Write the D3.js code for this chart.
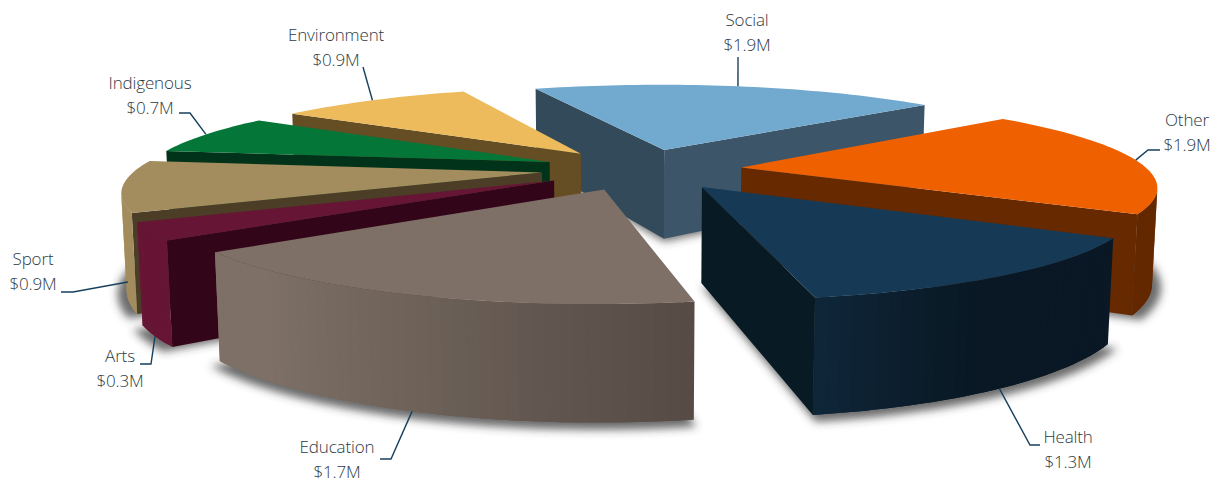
<!DOCTYPE html>
<html>
<head>
<meta charset="utf-8">
<script src="https://cdn.jsdelivr.net/npm/d3@7"></script>
<style>
  html, body { margin: 0; padding: 0; background: #fff; }
  svg { display: block; }
  text { font-family: "Open Sans", sans-serif; font-weight: 300; font-size: 17px; fill: #2c3a44; letter-spacing: -0.15px; }
</style>
</head>
<body>
<svg id="chart" width="1214" height="482"></svg>
<script>
// Funding by sector, in millions of dollars
const sectors = ["Social", "Other", "Health", "Education", "Arts", "Sport", "Indigenous", "Environment"];
const amounts = [1.9, 1.9, 1.3, 1.7, 0.3, 0.9, 0.7, 0.9];

// Colours of each slice: top face and the two cut faces
const topColors   = ["#72a9cf", "#ee6000", "#163955", "#7e7066", "#671534", "#a38c5d", "#047638", "#edbb5b"];
const startColors = ["#334a5a", "#662900", "#081a24", "#5a4f48", "#320618", "#4b3d26", "#00331a", "#664e24"];
const endColors   = ["#3c5569", "#662900", "#081a24", "#5a4f48", "#320618", "#4b3d26", "#00331a", "#664e24"];

// Label placement: text centre, first baseline, and the elbow of each leader
const labelX  = [747, 1187, 1068, 337, 120, 33, 150, 336];
const labelY  = [26, 126, 443, 453, 362, 265, 89, 41];
const elbows  = [
  [[738, 57]],
  [[1148, 150], [1160, 150]],
  [[1030, 445], [1040, 445]],
  [[391, 459], [380, 459]],
  [[151, 364], [140, 364]],
  [[73, 292], [61, 292]],
  [[190, 113], [179, 113]],
  [[363, 67]]
];

// Perspective camera looking down on the pie
const camera = { cx: 637, cy: 190, dist: 2100, tilt: Math.atan(0.222) };
const pieCentre = { x: 5, z: -100 };
const radius = 425, explode = 105, thickness = 100;

function project(x, y, z) {
  const yr = y * Math.cos(camera.tilt) - z * Math.sin(camera.tilt);
  const zr = y * Math.sin(camera.tilt) + z * Math.cos(camera.tilt);
  const s = camera.dist / (camera.dist - zr);
  return [camera.cx + x * s, camera.cy - yr * s];
}

const rad = Math.PI / 180;
const pie = d3.pie().sort(null).startAngle(-22 * rad).endAngle(338 * rad);
const arcs = pie(amounts);
const rimScale = d3.scaleLinear().domain([0, 1]).range([0, radius]);

// Brightness of the outer wall depends on the direction it faces
const wallLight = d3.scaleLinear().domain([121, 150, 170, 222]).range([0.42, 0.42, 0.68, 1]).clamp(true);

const slices = arcs.map((a, i) => {
  const mid = (a.startAngle + a.endAngle) / 2;
  const ox = pieCentre.x + explode * Math.sin(mid);
  const oz = pieCentre.z - explode * Math.cos(mid);
  const at = (angle, y, r = rimScale(1)) => project(ox + r * Math.sin(angle), y, oz - r * Math.cos(angle));
  const steps = d3.range(0, Math.ceil((a.endAngle - a.startAngle) / (1.5 * rad)) + 1);
  const angles = steps.map(k => a.startAngle + (a.endAngle - a.startAngle) * k / (steps.length - 1));
  return { i, a, mid, ox, oz, at, angles };
});

const svg = d3.select("#chart");
const defs = svg.append("defs");
defs.append("filter").attr("id", "soft")
  .attr("x", "-10%").attr("y", "-10%").attr("width", "120%").attr("height", "120%")
  .append("feGaussianBlur").attr("stdDeviation", 4.5);

const polyPath = d3.line().curve(d3.curveLinearClosed);
// Positive when the points run clockwise on screen
const signedArea = pts => -d3.polygonArea(pts);

// Soft shadows on the ground below each slice
const shadowLayer = svg.append("g").attr("filter", "url(#soft)");
slices.forEach(sl => {
  const out = radius + 9;
  const pts = [project(sl.ox, -thickness - 3, sl.oz)]
    .concat(sl.angles.map(t => sl.at(t, -thickness - 3, out)));
  shadowLayer.append("path").attr("d", polyPath(pts)).attr("fill", "#3a3a3a").attr("fill-opacity", 0.75);
});

// Slices are painted from the farthest to the nearest
const order = slices.slice().sort((p, q) => d3.ascending(p.oz, q.oz));
const sliceLayer = svg.append("g");

order.forEach(sl => {
  const g = sliceLayer.append("g");
  const base = d3.color(topColors[sl.i]);
  const h = -thickness;
  const apexTop = project(sl.ox, 0, sl.oz), apexBottom = project(sl.ox, h, sl.oz);

  const face = (pts, fill) => g.append("path").attr("d", polyPath(pts)).attr("fill", fill);

  // Cut faces along the two radii
  const startQuad = [apexTop, sl.at(sl.a.startAngle, 0), sl.at(sl.a.startAngle, h), apexBottom];
  const endQuad = [apexTop, sl.at(sl.a.endAngle, 0), sl.at(sl.a.endAngle, h), apexBottom];
  if (signedArea(startQuad) < 0) face(startQuad, startColors[sl.i]);
  if (signedArea(endQuad) > 0) face(endQuad, endColors[sl.i]);

  // Outer curved wall: shaded strips, each reaching under the next so no seams show
  const visible = d3.pairs(sl.angles).filter(([t0, t1]) =>
    signedArea([sl.at(t0, 0), sl.at(t1, 0), sl.at(t1, h), sl.at(t0, h)]) < 0);
  visible.forEach(([t0, t1], j) => {
    const far = j + 1 < visible.length ? visible[j + 1][1] : t1;
    const span = sl.angles.filter(t => t >= t0 && t <= far);
    const ring = span.map(t => sl.at(t, 0)).concat(span.slice().reverse().map(t => sl.at(t, h)));
    const degrees = ((t0 + t1) / 2 / rad + 360) % 360;
    const k = wallLight(degrees);
    face(ring, d3.rgb(base.r * k, base.g * k, base.b * k).formatHex());
  });

  // Top face
  const topPts = [apexTop].concat(sl.angles.map(t => sl.at(t, 0)));
  face(topPts, topColors[sl.i]);
});

// Leaders and labels
const leaderLine = d3.line();
const labelLayer = svg.append("g");
slices.forEach(sl => {
  const front = Math.cos(sl.mid) < 0;
  const start = sl.at(sl.mid, front ? -thickness : 0);
  labelLayer.append("path")
    .attr("d", leaderLine([start].concat(elbows[sl.i])))
    .attr("fill", "none").attr("stroke", "#17405e").attr("stroke-width", 1.4);
  labelLayer.append("text").attr("x", labelX[sl.i]).attr("y", labelY[sl.i])
    .attr("text-anchor", "middle").text(sectors[sl.i]);
  labelLayer.append("text").attr("x", labelX[sl.i]).attr("y", labelY[sl.i] + 25)
    .attr("text-anchor", "middle").text("$" + d3.format(".1f")(amounts[sl.i]) + "M");
});
</script>
</body>
</html>
